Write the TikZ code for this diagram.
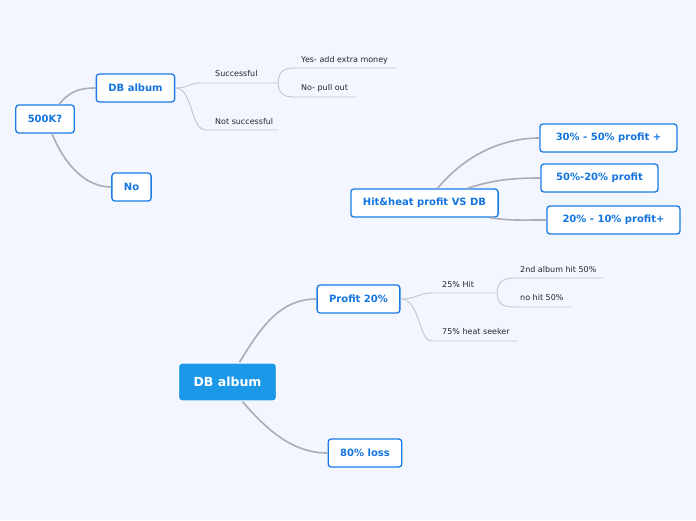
\documentclass[tikz,border=0pt]{standalone}
\usepackage{fontspec}
\setmainfont{DejaVu Sans}
\usetikzlibrary{positioning}

\definecolor{paper}{HTML}{F3F6FE}
\definecolor{topicblue}{HTML}{1A7BE6}
\definecolor{topictext}{HTML}{1374E0}
\definecolor{mainfill}{HTML}{1C98E8}
\definecolor{branchgray}{HTML}{ABACB6}
\definecolor{twiggray}{HTML}{C4C5CE}

\tikzset{
  topic/.style={draw=topicblue, line width=1.3pt, fill=white, rounded corners=3pt,
    text=topictext, font=\bfseries\fontsize{10}{12}\selectfont,
    inner xsep=12pt, minimum height=28pt},
  maintopic/.style={draw=white, line width=1.3pt, fill=mainfill, rounded corners=3pt,
    text=white, font=\bfseries\fontsize{12.5}{15}\selectfont,
    inner xsep=15pt, minimum height=38pt},
  leaf/.style={font=\fontsize{8}{10}\selectfont, text=black!85, inner sep=0pt, anchor=west},
  branch/.style={draw=branchgray, line width=1.6pt},
  twig/.style={draw=twiggray, line width=0.9pt}
}

\begin{document}
\begin{tikzpicture}[x=1pt, y=-1pt]
  \useasboundingbox[fill=paper] (0,0) rectangle (696,520);

  % Topics:
  \node[topic] (q500) at (45,119) {500K?};
  \node[topic] (dbtop) at (135.5,88) {DB album};
  \node[topic] (no) at (131.5,187) {No};
  \node[topic] (hit) at (424.5,203) {Hit\&heat profit VS DB};
  \node[topic, minimum width=137pt] (p3050) at (608.5,138) {30\% - 50\% profit +};
  \node[topic, minimum width=117pt] (p5020) at (599.5,178) {50\%-20\% profit};
  \node[topic, minimum width=133pt] (p2010) at (613.5,220) {20\% - 10\% profit+};
  \node[maintopic] (db) at (227.5,382) {DB album};
  \node[topic] (prof) at (358.5,299) {Profit 20\%};
  \node[topic] (loss) at (365,453) {80\% loss};

  % Labels:
  \node[leaf] (succ) at (215,74) {Successful};
  \node[leaf] (yes) at (301,60) {Yes- add extra money};
  \node[leaf] (pull) at (301,88) {No- pull out};
  \node[leaf] (nots) at (215,122) {Not successful};
  \node[leaf] (hit25) at (442,285) {25\% Hit};
  \node[leaf] (second) at (520,270) {2nd album hit 50\%};
  \node[leaf] (nohit) at (520,298) {no hit 50\%};
  \node[leaf] (heat) at (442,332) {75\% heat seeker};

  % Underline ends:
  \coordinate (succA) at (200,83);  \coordinate (succB) at (278,83);
  \coordinate (yesA) at (296,68);   \coordinate (yesB) at (396,68);
  \coordinate (pullA) at (296,97);  \coordinate (pullB) at (356,97);
  \coordinate (notsA) at (206,130); \coordinate (notsB) at (278,130);
  \coordinate (hitA) at (432,293);  \coordinate (hitB) at (497,293);
  \coordinate (secA) at (516,278);  \coordinate (secB) at (604,278);
  \coordinate (nohA) at (516,307);  \coordinate (nohB) at (571,307);
  \coordinate (heatA) at (432,341); \coordinate (heatB) at (517,341);

  % Main branches:
  \draw[branch] ([xshift=14pt]q500.north) .. controls +(10,-12) and +(-18,0) .. (dbtop.west);
  \draw[branch] ([xshift=7pt]q500.south) .. controls +(14,34) and +(-24,0) .. (no.west);
  \draw[branch] ([xshift=13pt]hit.north) .. controls +(30,-36) and +(-34,0) .. (p3050.west);
  \draw[branch] ([xshift=43pt]hit.north) .. controls +(24,-8) and +(-30,0) .. (p5020.west);
  \draw[branch] ([xshift=-9pt]hit.south east) .. controls +(20,3) and +(-30,0) .. (p2010.west);
  \draw[branch] ([xshift=12pt]db.north) .. controls +(24,-40) and +(-34,0) .. (prof.west);
  \draw[branch] ([xshift=15pt]db.south) .. controls +(26,30) and +(-34,0) .. (loss.west);

  % Sub branches:
  \draw[twig] (dbtop.east) .. controls +(14,0) and +(-12,0) .. (succA) -- (succB);
  \draw[twig] (dbtop.east) .. controls +(18,0) and +(-16,0) .. (notsA) -- (notsB);
  \draw[twig] (succB) .. controls (279,70) and (284,68) .. (yesA) -- (yesB);
  \draw[twig] (succB) .. controls (279,95) and (284,97) .. (pullA) -- (pullB);
  \draw[twig] (prof.east) .. controls +(16,0) and +(-14,0) .. (hitA) -- (hitB);
  \draw[twig] (prof.east) .. controls +(20,0) and +(-14,0) .. (heatA) -- (heatB);
  \draw[twig] (hitB) .. controls (498,281) and (503,278) .. (secA) -- (secB);
  \draw[twig] (hitB) .. controls (498,305) and (503,307) .. (nohA) -- (nohB);
\end{tikzpicture}
\end{document}
